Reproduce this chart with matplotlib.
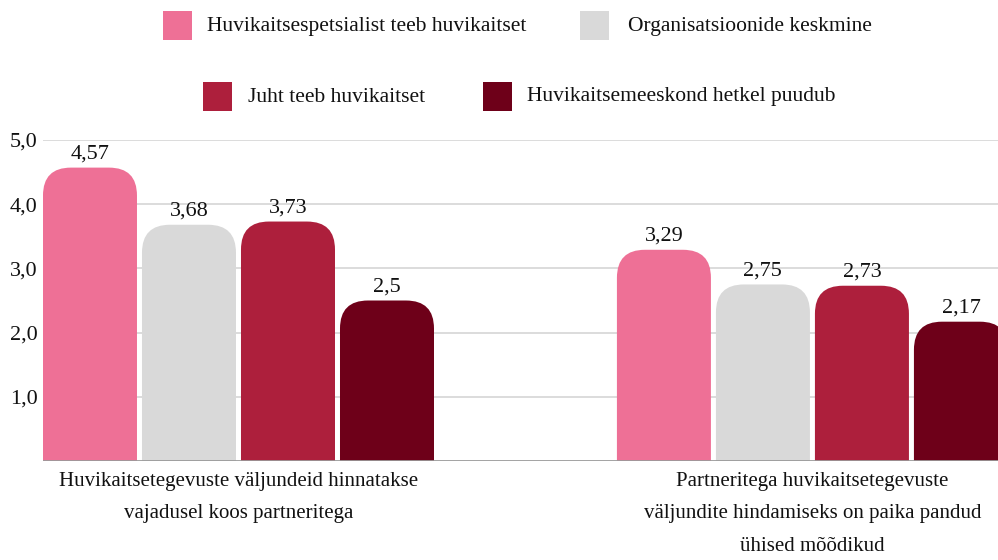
import matplotlib
matplotlib.use("Agg")
import matplotlib.pyplot as plt
from matplotlib.path import Path
from matplotlib.patches import PathPatch, Rectangle
import numpy as np

categories = ["Huvikaitsetegevuste väljundeid hinnatakse\nvajadusel koos partneritega",
              "Partneritega huvikaitsetegevuste\nväljundite hindamiseks on paika pandud\nühised mõõdikud"]
series_names = ["Huvikaitsespetsialist teeb huvikaitset", "Organisatsioonide keskmine",
                "Juht teeb huvikaitset", "Huvikaitsemeeskond hetkel puudub"]
values = [
    [4.57, 3.29],
    [3.68, 2.75],
    [3.73, 2.73],
    [2.5, 2.17],
]
value_labels = [
    ["4,57", "3,29"],
    ["3,68", "2,75"],
    ["3,73", "2,73"],
    ["2,5", "2,17"],
]
yticks = [1, 2, 3, 4, 5]
ytick_labels = ["1,0", "2,0", "3,0", "4,0", "5,0"]
colors = ["#EE7096", "#D9D9D9", "#AD1F3C", "#6E0019"]

FONT = "Liberation Serif"
TXT = "#111111"
W, H = 998, 560
fig = plt.figure(figsize=(W / 100, H / 100), dpi=100)

# axes placement in pixels
ax_left, ax_right, ax_top, ax_bottom = 43, 1007, 140, 461
ax = fig.add_axes([ax_left / W, 1 - ax_bottom / H, (ax_right - ax_left) / W, (ax_bottom - ax_top) / H])
x0, x1 = -0.3406, 1.339
ax.set_xlim(x0, x1)
ax.set_ylim(0, 5)

step = 0.1725
bw = 0.1638
x = np.arange(len(categories))
px_per_x = (ax_right - ax_left) / (x1 - x0)
px_per_y = (ax_bottom - ax_top) / 5.0
r = 28
rx, ry = r / px_per_x, r / px_per_y

for i, (vals, col) in enumerate(zip(values, colors)):
    bars = ax.bar(x + (i - 1.5) * step, vals, bw, color=col, zorder=2)
    for b, lab in zip(bars, value_labels[i]):
        bx, bwid, bh = b.get_x(), b.get_width(), b.get_height()
        b.set_visible(False)
        rr = min(ry, bh)
        verts = [(bx, 0), (bx, bh - rr), (bx, bh), (bx + rx, bh), (bx + bwid - rx, bh),
                 (bx + bwid, bh), (bx + bwid, bh - rr), (bx + bwid, 0), (bx, 0)]
        codes = [Path.MOVETO, Path.LINETO, Path.CURVE3, Path.CURVE3, Path.LINETO,
                 Path.CURVE3, Path.CURVE3, Path.LINETO, Path.CLOSEPOLY]
        ax.add_patch(PathPatch(Path(verts, codes), facecolor=col, edgecolor="none", zorder=2))
        ax.annotate(lab, (bx + bwid / 2, bh), xytext=(0, 3), textcoords="offset points",
                    ha="center", va="bottom", fontsize=16, family=FONT, color=TXT,
                    annotation_clip=False)

for t in yticks:
    ax.axhline(t, color="#D6D6D6", lw=1.2, zorder=1)
ax.axhline(0, color="#9A9A9A", lw=2, zorder=3)

ax.set_yticks(yticks)
ax.set_yticklabels(ytick_labels, family=FONT, fontsize=16, color=TXT)
ax.set_xticks(x)
ax.set_xticklabels(categories, family=FONT, fontsize=15, color=TXT, linespacing=1.95, va="top")
ax.tick_params(axis="both", length=0)
ax.tick_params(axis="y", pad=4)
ax.tick_params(axis="x", pad=8)
for s in ax.spines.values():
    s.set_visible(False)

# legend (manual, two centered rows)
legend_pos = [(163, 11, 207), (580, 11, 628), (203, 82, 248), (483, 82, 527)]
for (sx, sy, tx), name, col in zip(legend_pos, series_names, colors):
    fig.patches.append(Rectangle((sx / W, 1 - (sy + 29) / H), 29 / W, 29 / H,
                                 transform=fig.transFigure, facecolor=col, edgecolor="none"))
    fig.text(tx / W, 1 - (sy + 15) / H, name, ha="left", va="center",
             family=FONT, fontsize=15.5, color=TXT)

fig.savefig("out.png", dpi=100)
